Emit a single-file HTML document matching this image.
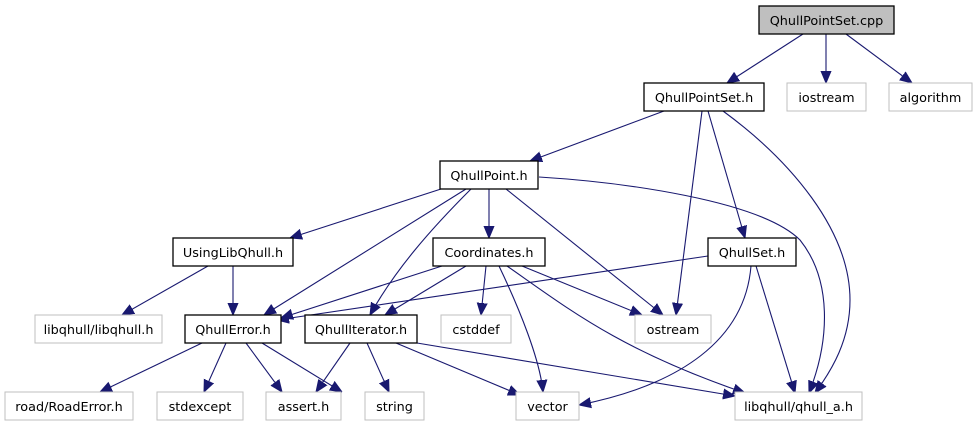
<!DOCTYPE html>
<html><head><meta charset="utf-8"><style>
html,body{margin:0;padding:0;background:#fff;}
svg{display:block;}
text{font-family:"DejaVu Sans","Liberation Sans",sans-serif;font-size:12.8px;fill:#000;}
.b{fill:#fff;stroke:#000;stroke-width:1.3;}
.g{fill:#fff;stroke:#bfbfbf;stroke-width:1;}
.e{fill:none;stroke:#191970;stroke-width:1.1;}
</style></head><body>
<svg width="977" height="427" viewBox="0 0 977 427" xmlns="http://www.w3.org/2000/svg">
<defs><marker id="a" viewBox="0 0 12 12" refX="12" refY="6" markerWidth="12" markerHeight="12" markerUnits="userSpaceOnUse" orient="auto"><path d="M0,1 L12,6 L0,11 z" fill="#191970" stroke="#191970"/></marker></defs>
<g class="e" marker-end="url(#a)">
<path d="M803,34 L727,83"/>
<path d="M826,34 L826,83"/>
<path d="M846,34 L912,83"/>
<path d="M664,111 L530,161"/>
<path d="M702,111 L676,315"/>
<path d="M708,111 L745,238"/>
<path d="M723,111 C790,160 850,230 850,300 C850,340 832,370 815,393"/>
<path d="M539,177 C620,182 760,200 800,240 C832,280 830,340 809,393"/>
<path d="M441,189 L290,238"/>
<path d="M466,189 L264,315"/>
<path d="M471,189 C430,230 395,270 370,315"/>
<path d="M489,189 L489,238"/>
<path d="M506,189 L663,315"/>
<path d="M208,266 L122,315"/>
<path d="M233,266 L233,315"/>
<path d="M442,266 L281,318"/>
<path d="M466,266 L385,315"/>
<path d="M486,266 L481,315"/>
<path d="M499,266 C520,310 540,360 543,392"/>
<path d="M522,266 L642,315"/>
<path d="M507,266 C570,310 620,350 745,393"/>
<path d="M708,256 L277,320"/>
<path d="M751,266 C745,340 680,385 579,405"/>
<path d="M756,266 L795,393"/>
<path d="M202,343 L100,392"/>
<path d="M226,343 L204,392"/>
<path d="M246,343 L282,392"/>
<path d="M262,343 L342,392"/>
<path d="M350,343 L316,392"/>
<path d="M367,343 L389,392"/>
<path d="M396,343 L520,395"/>
<path d="M417,343 L735,396"/>
</g>
<rect x="759" y="6" width="135" height="28" fill="#bfbfbf" stroke="#000" stroke-width="1.3"/>
<text x="826.5" y="25" text-anchor="middle">QhullPointSet.cpp</text>
<rect class="b" x="644" y="83" width="120" height="28"/><text x="704" y="102" text-anchor="middle">QhullPointSet.h</text>
<rect class="g" x="787" y="83" width="79" height="28"/><text x="826.5" y="102" text-anchor="middle">iostream</text>
<rect class="g" x="889" y="83" width="83" height="28"/><text x="930.5" y="102" text-anchor="middle">algorithm</text>
<rect class="b" x="440" y="161" width="98" height="28"/><text x="489" y="180" text-anchor="middle">QhullPoint.h</text>
<rect class="b" x="173" y="238" width="120" height="28"/><text x="233" y="257" text-anchor="middle">UsingLibQhull.h</text>
<rect class="b" x="433" y="238" width="112" height="28"/><text x="489" y="257" text-anchor="middle">Coordinates.h</text>
<rect class="b" x="708" y="238" width="88" height="28"/><text x="752" y="257" text-anchor="middle">QhullSet.h</text>
<rect class="g" x="35" y="315" width="127" height="28"/><text x="98.5" y="334" text-anchor="middle">libqhull/libqhull.h</text>
<rect class="b" x="185" y="315" width="96" height="28"/><text x="233" y="334" text-anchor="middle">QhullError.h</text>
<rect class="b" x="305" y="315" width="112" height="28"/><text x="361" y="334" text-anchor="middle">QhullIterator.h</text>
<rect class="g" x="441" y="315" width="70" height="28"/><text x="476" y="334" text-anchor="middle">cstddef</text>
<rect class="g" x="635" y="315" width="76" height="28"/><text x="673" y="334" text-anchor="middle">ostream</text>
<rect class="g" x="5" y="392" width="128" height="28"/><text x="69" y="411" text-anchor="middle">road/RoadError.h</text>
<rect class="g" x="157" y="392" width="86" height="28"/><text x="200" y="411" text-anchor="middle">stdexcept</text>
<rect class="g" x="266" y="392" width="75" height="28"/><text x="303.5" y="411" text-anchor="middle">assert.h</text>
<rect class="g" x="365" y="392" width="59" height="28"/><text x="394.5" y="411" text-anchor="middle">string</text>
<rect class="g" x="516" y="392" width="63" height="28"/><text x="547.5" y="411" text-anchor="middle">vector</text>
<rect class="g" x="735" y="392" width="127" height="28"/><text x="798.5" y="411" text-anchor="middle">libqhull/qhull_a.h</text>
</svg>
</body></html>
